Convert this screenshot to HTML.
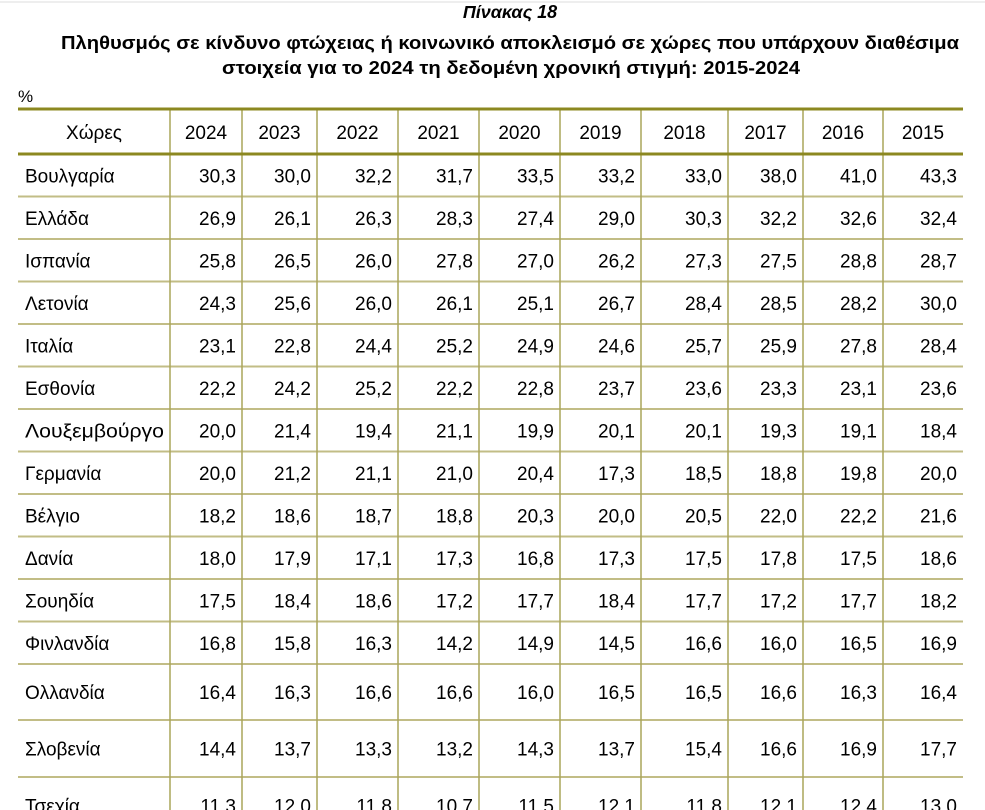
<!DOCTYPE html>
<html><head><meta charset="utf-8"><style>
html,body{margin:0;padding:0;background:#fff;}
svg{display:block;}
text{font-family:"Liberation Sans",sans-serif;fill:#000;}
</style></head><body>
<svg width="985" height="810" viewBox="0 0 985 810" xmlns="http://www.w3.org/2000/svg">
<line x1="0" y1="2" x2="985" y2="2" stroke="#ddd" stroke-width="1"/>
<text x="510" y="18" text-anchor="middle" font-weight="bold" font-style="italic" font-size="18">Πίνακας 18</text>
<text x="510" y="49" text-anchor="middle" font-weight="bold" font-size="18" textLength="898" lengthAdjust="spacingAndGlyphs">Πληθυσμός σε κίνδυνο φτώχειας ή κοινωνικό αποκλεισμό σε χώρες που υπάρχουν διαθέσιμα</text>
<text x="511" y="74" text-anchor="middle" font-weight="bold" font-size="18" textLength="578" lengthAdjust="spacingAndGlyphs">στοιχεία για το 2024 τη δεδομένη χρονική στιγμή: 2015-2024</text>
<text x="18" y="102" font-size="17">%</text>
<g id="grid"></g>
</svg>
<script>
(function(){
var svg=document.querySelector('svg');var NS='http://www.w3.org/2000/svg';
function el(n,a,t){var e=document.createElementNS(NS,n);for(var k in a)e.setAttribute(k,a[k]);if(t!=null)e.textContent=t;svg.appendChild(e);return e;}
var cols=[18,170,242,317,398,479,560,641,728,803,883,963];
var years=['2024','2023','2022','2021','2020','2019','2018','2017','2016','2015'];
var data=[
['Βουλγαρία','30,3','30,0','32,2','31,7','33,5','33,2','33,0','38,0','41,0','43,3'],
['Ελλάδα','26,9','26,1','26,3','28,3','27,4','29,0','30,3','32,2','32,6','32,4'],
['Ισπανία','25,8','26,5','26,0','27,8','27,0','26,2','27,3','27,5','28,8','28,7'],
['Λετονία','24,3','25,6','26,0','26,1','25,1','26,7','28,4','28,5','28,2','30,0'],
['Ιταλία','23,1','22,8','24,4','25,2','24,9','24,6','25,7','25,9','27,8','28,4'],
['Εσθονία','22,2','24,2','25,2','22,2','22,8','23,7','23,6','23,3','23,1','23,6'],
['Λουξεμβούργο','20,0','21,4','19,4','21,1','19,9','20,1','20,1','19,3','19,1','18,4'],
['Γερμανία','20,0','21,2','21,1','21,0','20,4','17,3','18,5','18,8','19,8','20,0'],
['Βέλγιο','18,2','18,6','18,7','18,8','20,3','20,0','20,5','22,0','22,2','21,6'],
['Δανία','18,0','17,9','17,1','17,3','16,8','17,3','17,5','17,8','17,5','18,6'],
['Σουηδία','17,5','18,4','18,6','17,2','17,7','18,4','17,7','17,2','17,7','18,2'],
['Φινλανδία','16,8','15,8','16,3','14,2','14,9','14,5','16,6','16,0','16,5','16,9'],
['Ολλανδία','16,4','16,3','16,6','16,6','16,0','16,5','16,5','16,6','16,3','16,4'],
['Σλοβενία','14,4','13,7','13,3','13,2','14,3','13,7','15,4','16,6','16,9','17,7'],
['Τσεχία','11,3','12,0','11,8','10,7','11,5','12,1','11,8','12,1','12,4','13,0']];
var tops=[154];for(var i=1;i<=12;i++)tops.push(154+i*42.5);tops.push(720,777,834);
// row lines
for(var i=1;i<tops.length-1;i++)el('line',{x1:18,x2:963,y1:tops[i],y2:tops[i],stroke:'#c2bd86','stroke-width':2});
// vertical lines
for(var c=1;c<cols.length-1;c++)el('line',{x1:cols[c],x2:cols[c],y1:109,y2:810,stroke:'#aaa55a','stroke-width':1.5});
el('line',{x1:18,x2:963,y1:109,y2:109,stroke:'#8c8820','stroke-width':3});
el('line',{x1:18,x2:963,y1:154,y2:154,stroke:'#8c8820','stroke-width':3});
el('text',{x:94,y:139,'text-anchor':'middle','font-size':19},'Χώρες');
for(var c=0;c<10;c++)el('text',{x:(cols[c+1]+cols[c+2])/2,y:139,'text-anchor':'middle','font-size':19},years[c]);
for(var r=0;r<data.length;r++){
 var y=(tops[r]+tops[r+1])/2+7;
 var a={x:25,y:y,'font-size':19};
 if(data[r][0]==='Λουξεμβούργο'){a.textLength=139;a.lengthAdjust='spacingAndGlyphs';}
 el('text',a,data[r][0]);
 for(var c=1;c<=10;c++)el('text',{x:cols[c+1]-6,y:y,'text-anchor':'end','font-size':19},data[r][c]);
}
})();
</script>
</body></html>
